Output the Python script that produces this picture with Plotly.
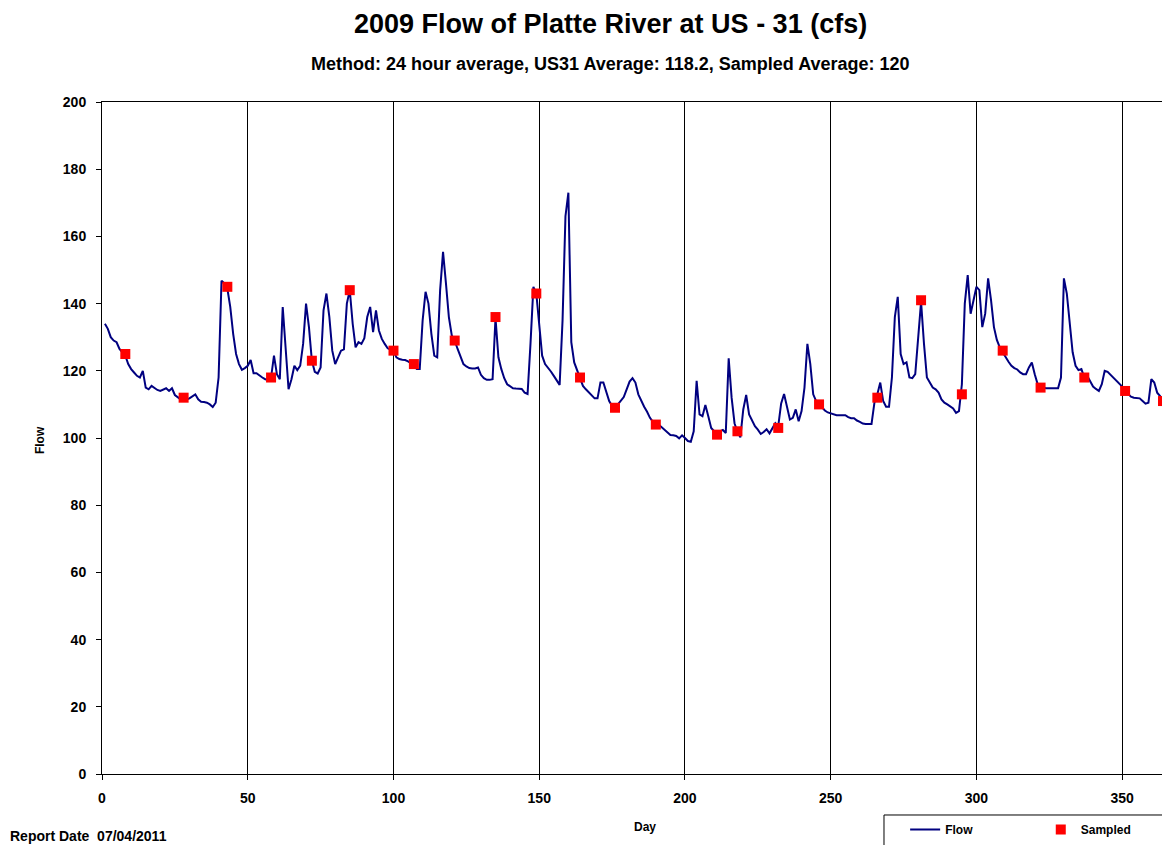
import plotly.graph_objects as go

# daily flow (cfs), day 1..365
flow = [
    134, 132.5, 130, 129, 128.5, 126.5, 125.5, 124.5, 122, 120.5,
    119.5, 118.5, 118, 120, 115, 114.5, 115.5, 114.8, 114.3, 114,
    114.5, 114.8, 114, 114.8, 112.8, 112, 111.5, 111.6, 111.5, 111.8,
    112.3, 113, 111.5, 110.8, 110.7, 110.5, 110, 109.2, 110.5, 118,
    146.8, 146, 144.5, 139, 131, 125, 122, 120.3, 120.8, 121.5,
    123.2, 119.3, 119.3, 118.5, 118, 117.5, 117.3, 118, 124.5, 119,
    117.5, 139, 126, 114.5, 117.5, 121.5, 120.2, 121.5, 128, 140,
    133, 123, 119.7, 119.2, 121, 138, 143, 136, 126, 122,
    124, 126, 126.4, 140, 144, 134, 127, 128.5, 128, 129.7,
    136, 139, 131.5, 138, 132, 129.5, 128, 126.7, 126.3, 126,
    124, 123.5, 123.3, 123.2, 122.8, 122.2, 121.7, 120.5, 120.5, 135,
    143.5, 140, 131, 124.5, 124, 144, 155.4, 146, 136, 130.5,
    129, 126.5, 124.5, 122, 121.3, 120.8, 120.7, 120.7, 121, 118.8,
    117.8, 117.3, 117.3, 117.5, 135.7, 124, 120.5, 117.8, 116, 115.3,
    114.8, 114.7, 114.7, 114.6, 113.5, 113.1, 128, 145, 143, 134,
    124.5, 122, 121, 119.8, 118.5, 117, 115.8, 135, 166, 173,
    128.5, 122.5, 120, 118, 115.5, 114.5, 113.5, 112.5, 111.8, 111.8,
    116.5, 116.5, 114, 111, 109.5, 109, 110, 111.2, 112.2, 114.5,
    116.8, 117.8, 116.5, 113, 111, 109.3, 107.8, 106, 104.8, 104.2,
    104, 103.2, 102.5, 101.8, 100.9, 100.8, 100.6, 99.9, 100.8, 100,
    99.1, 98.9, 102, 117, 107, 106.5, 109.8, 106.5, 103, 102,
    101, 102, 102.4, 101.5, 123.7, 112, 104.4, 101.8, 100.2, 108.5,
    112.8, 107, 105, 103.5, 102.5, 101.2, 101.8, 102.6, 101.4, 103,
    104.4, 103.5, 110.3, 113.1, 109.5, 105.5, 106, 108.5, 105, 108,
    115, 128, 122, 113, 111, 110, 109, 108.2, 107.6, 107.3,
    107, 106.8, 106.8, 106.8, 106.8, 106.2, 105.9, 105.9, 105.2, 104.8,
    104.3, 104.2, 104.2, 104.2, 110.5, 113, 116.5, 111, 109.3, 109.3,
    118, 136, 142, 125, 122, 122.5, 118, 117.8, 119, 131,
    140.5, 128, 118, 116.5, 115, 114.5, 113.5, 111.5, 110.5, 110,
    109.5, 108.8, 107.5, 108, 116, 140, 148.5, 137, 141, 145,
    144, 133, 137, 147.5, 141, 133, 129.2, 127, 125.5, 124,
    122.7, 121.5, 120.8, 120.4, 119.5, 119, 119, 121, 122.5, 119,
    116, 115, 114.8, 114.8, 114.8, 114.8, 114.8, 114.8, 118, 147.5,
    143, 134, 125.5, 121.5, 120.2, 120.5, 118, 118.5, 116.8, 115.3,
    114.6, 114, 116, 120, 119.7, 118.8, 117.8, 117, 116, 115.3,
    114, 113, 112.3, 112, 111.9, 111.8, 111, 110.2, 110.5, 117.5,
    116.5, 113.5, 112.5, 111, 110,
]
days = list(range(1, len(flow) + 1))

sample_days = [8, 28, 43, 58, 72, 85, 100, 107, 121, 135, 149, 164, 176,
               190, 211, 218, 232, 246, 266, 281, 295, 309, 322, 337, 351, 364]
sample_flow = [125, 112, 145, 118, 123, 144, 126, 122, 129, 136, 143, 118, 109,
               104, 101, 102, 103, 110, 112, 141, 113, 126, 115, 118, 114, 111]

FONT = "Liberation Sans, Arial, sans-serif"

fig = go.Figure()
fig.add_trace(go.Scatter(x=days, y=flow, mode="lines", name="Flow", legend="legend",
                         line=dict(color="#000080", width=2)))
fig.add_trace(go.Scatter(x=sample_days, y=sample_flow, mode="markers", name="Sampled",
                         legend="legend2",
                         marker=dict(color="#ff0000", symbol="square", size=10)))

legend_font = dict(family=FONT, size=12, color="black", weight="bold")

# page has an 8px body margin, so the figure is 8px smaller each way
fig.update_layout(
    width=1162, height=837,
    margin=dict(l=94, r=0, t=94, b=71),
    plot_bgcolor="white", paper_bgcolor="white",
    font=dict(family=FONT, size=13, color="black"),
    showlegend=True,
    legend=dict(orientation="h", x=0.752, xanchor="left", y=-0.061, yanchor="top",
                bgcolor="rgba(0,0,0,0)", font=legend_font),
    legend2=dict(orientation="h", x=0.879, xanchor="left", y=-0.061, yanchor="top",
                 bgcolor="rgba(0,0,0,0)", font=legend_font),
    shapes=[dict(type="rect", xref="paper", yref="paper",
                 x0=0.7322, x1=1.02, y0=-0.108, y1=-0.061,
                 line=dict(color="black", width=1), fillcolor="rgba(0,0,0,0)")],
)
fig.update_xaxes(range=[0, 366.4], tickvals=[0, 50, 100, 150, 200, 250, 300, 350],
                 showgrid=True, gridcolor="black", gridwidth=1,
                 showline=True, linecolor="black", linewidth=1, mirror=True,
                 ticks="outside", ticklen=5, tickcolor="black", zeroline=False,
                 ticklabelstandoff=6,
                 tickfont=dict(family=FONT, size=14, weight="bold"))
fig.update_yaxes(range=[0, 200], dtick=20, showgrid=False,
                 showline=True, linecolor="black", linewidth=1, mirror=True,
                 ticks="outside", ticklen=5, tickcolor="black", zeroline=False,
                 ticklabelstandoff=7,
                 tickfont=dict(family=FONT, size=14, weight="bold"))

annots = [
    dict(text="2009 Flow of Platte River at US - 31 (cfs)", x=0.4757, y=1.1168,
         font=dict(family=FONT, size=27, weight="bold")),
    dict(text="Method: 24 hour average, US31 Average: 118.2, Sampled Average: 120",
         x=0.4757, y=1.0565, font=dict(family=FONT, size=18, weight="bold")),
    dict(text="Day", x=0.5084, y=-0.0789, font=dict(family=FONT, size=12, weight="bold")),
    dict(text="Flow", x=-0.058, y=0.497, textangle=-90,
         font=dict(family=FONT, size=12, weight="bold")),
]
for a in annots:
    fig.add_annotation(xref="paper", yref="paper", showarrow=False,
                       xanchor="center", yanchor="middle", **a)
fig.add_annotation(text="Report Date  07/04/2011", xref="paper", yref="paper",
                   x=-0.088, y=-0.0923, xanchor="left", yanchor="middle", showarrow=False,
                   font=dict(family=FONT, size=14, weight="bold"))

fig.write_html("out.html")
